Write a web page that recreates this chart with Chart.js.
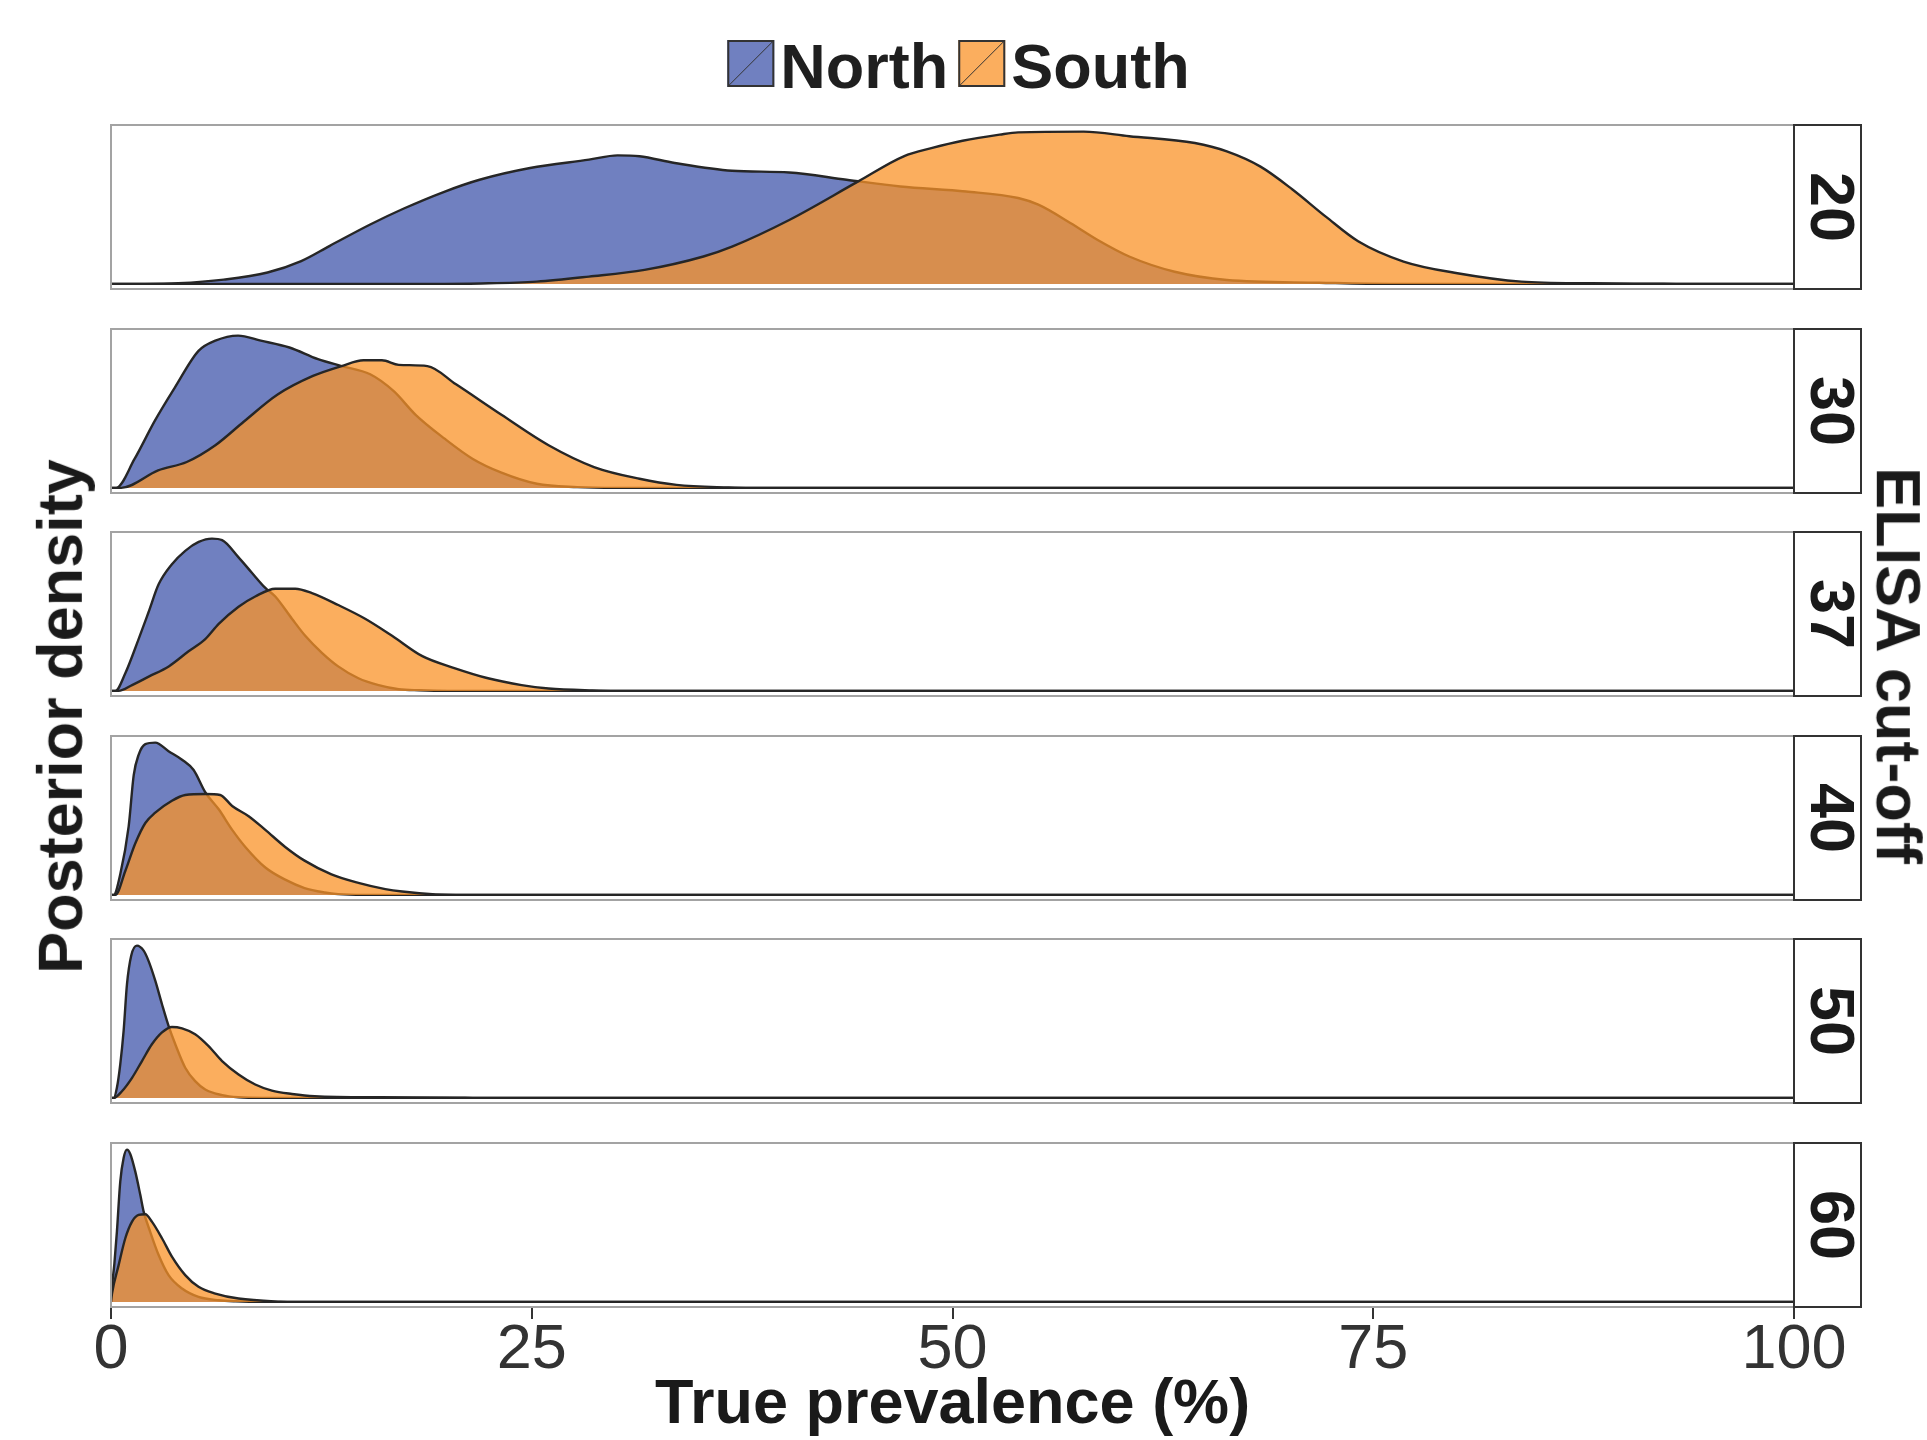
<!DOCTYPE html>
<html>
<head>
<meta charset="utf-8">
<title>Posterior density of true prevalence by ELISA cut-off</title>
<script src="https://cdn.jsdelivr.net/npm/chart.js@4.4.1/dist/chart.umd.min.js"></script>
<style>
  html, body { margin: 0; padding: 0; background: #fff; }
  #page { position: relative; width: 1927px; height: 1440px; overflow: hidden; font-family: "Liberation Sans", Arial, sans-serif; }
  #page canvas { position: absolute; left: 0; }
  .axis-title { position: absolute; font-weight: bold; font-size: 63px; line-height: 63px; color: #1a1a1a; white-space: nowrap; }
</style>
</head>
<body>
<div id="page"></div>
<script>
// ELISA cut-off of each panel, top to bottom
const cutoffs = ["20", "30", "37", "40", "50", "60"];
const seriesNames = ["North", "South"];
const tickValues = [0, 25, 50, 75, 100];

// posterior density curves: [true prevalence (%), density scaled to the panel maximum]
const north20 = [[0, 0], [2, 0], [4, 0.004], [6.7, 0.028], [9.3, 0.075], [11.3, 0.15], [13.0, 0.25], [15.4, 0.39], [17.4, 0.495], [19.8, 0.605], [21.9, 0.684], [24.9, 0.761], [28.4, 0.816], [30.1, 0.844], [31.4, 0.838], [33.5, 0.794], [36.9, 0.743], [40.3, 0.732], [43.7, 0.684], [46.9, 0.64], [50.8, 0.607], [53.9, 0.564], [55.1, 0.52], [57.0, 0.4], [58.6, 0.29], [60.5, 0.18], [63.2, 0.08], [66.3, 0.026], [71.8, 0.008], [76, 0], [100, 0]];
const south20 = [[0, 0], [19, 0], [22, 0.003], [25.3, 0.015], [28.4, 0.048], [31.7, 0.092], [35.2, 0.18], [36.9, 0.245], [40.3, 0.42], [44.4, 0.673], [47.1, 0.838], [48.8, 0.893], [50.6, 0.94], [52.8, 0.98], [53.9, 0.995], [57.8, 1.0], [60.5, 0.97], [64.4, 0.925], [66.3, 0.87], [68.3, 0.77], [70.2, 0.62], [72.2, 0.44], [74.1, 0.28], [76.8, 0.147], [80.0, 0.07], [83.8, 0.015], [88, 0.004], [91.8, 0.001], [93, 0], [100, 0]];
const north30 = [[0, 0], [0.3, 0], [1.4, 0.19], [2.6, 0.44], [3.8, 0.66], [5.2, 0.9], [6.2, 0.967], [7.55, 1.0], [8.9, 0.967], [10.6, 0.922], [12.3, 0.845], [13.7, 0.8], [15.4, 0.746], [16.8, 0.635], [18.1, 0.48], [19.8, 0.325], [21.5, 0.19], [23.2, 0.1], [25.3, 0.027], [27.7, 0.005], [30, 0], [100, 0]];
const south30 = [[0, 0], [0.6, 0], [2.8, 0.115], [4.5, 0.17], [6.2, 0.28], [7.9, 0.436], [9.9, 0.613], [12.0, 0.735], [13.7, 0.8], [15.0, 0.838], [16.1, 0.838], [17.1, 0.808], [18.8, 0.8], [20.5, 0.68], [23.2, 0.48], [26.0, 0.28], [28.7, 0.137], [31.4, 0.06], [33.6, 0.02], [36.7, 0.003], [38, 0], [100, 0]];
const north37 = [[0, 0], [0.26, 0], [0.85, 0.116], [1.64, 0.34], [2.24, 0.52], [2.83, 0.7], [3.62, 0.832], [4.41, 0.92], [5.21, 0.978], [6.0, 1.0], [6.6, 0.99], [7.58, 0.877], [8.37, 0.776], [9.17, 0.676], [9.76, 0.62], [10.75, 0.474], [11.54, 0.362], [12.53, 0.25], [13.5, 0.161], [14.7, 0.083], [15.9, 0.038], [17.1, 0.011], [18.3, 0.004], [20, 0], [100, 0]];
const south37 = [[0, 0], [0.45, 0], [1.25, 0.038], [2.24, 0.094], [3.43, 0.161], [4.61, 0.26], [5.6, 0.34], [6.4, 0.44], [7.58, 0.553], [8.57, 0.62], [9.76, 0.671], [10.95, 0.671], [11.94, 0.642], [13.5, 0.564], [15.1, 0.474], [16.7, 0.362], [18.5, 0.228], [20.4, 0.15], [22.4, 0.083], [24.4, 0.038], [26.0, 0.016], [28.6, 0.003], [30, 0], [100, 0]];
const north40 = [[0, 0], [0.16, 0], [0.55, 0.135], [1.05, 0.45], [1.35, 0.787], [1.64, 0.92], [2.04, 0.99], [2.63, 1.0], [3.42, 0.944], [4.22, 0.888], [4.91, 0.82], [5.6, 0.674], [6.4, 0.562], [7.2, 0.427], [7.98, 0.315], [9.17, 0.18], [10.35, 0.1], [11.5, 0.045], [12.7, 0.016], [13.5, 0.005], [15, 0], [100, 0]];
const south40 = [[0, 0], [0.26, 0], [0.85, 0.157], [1.44, 0.337], [2.04, 0.472], [2.63, 0.54], [3.62, 0.618], [4.41, 0.656], [5.6, 0.663], [6.49, 0.656], [7.2, 0.584], [8.18, 0.517], [9.17, 0.427], [10.35, 0.315], [11.5, 0.225], [13.1, 0.135], [14.7, 0.079], [16.3, 0.038], [17.3, 0.022], [19.3, 0.003], [20.5, 0], [100, 0]];
const north50 = [[0, 0], [0.16, 0], [0.35, 0.066], [0.55, 0.22], [0.75, 0.44], [0.95, 0.747], [1.2, 0.934], [1.54, 1.0], [1.94, 0.967], [2.23, 0.9], [2.63, 0.77], [3.03, 0.615], [3.42, 0.473], [3.82, 0.352], [4.41, 0.198], [5.0, 0.11], [5.6, 0.055], [6.6, 0.018], [7.58, 0.004], [9, 0], [100, 0]];
const south50 = [[0, 0], [0.16, 0], [0.65, 0.044], [1.25, 0.132], [1.84, 0.242], [2.43, 0.352], [3.03, 0.43], [3.62, 0.466], [4.22, 0.457], [5.0, 0.418], [5.8, 0.34], [6.6, 0.242], [7.58, 0.154], [8.57, 0.088], [9.56, 0.048], [10.75, 0.026], [12.1, 0.011], [16, 0.004], [20.65, 0.002], [21.5, 0], [100, 0]];
const north60 = [[0, 0], [0.06, 0.1], [0.2, 0.25], [0.35, 0.46], [0.55, 0.79], [0.75, 0.945], [0.95, 1.0], [1.15, 0.97], [1.44, 0.857], [1.74, 0.703], [1.94, 0.593], [2.33, 0.46], [2.83, 0.308], [3.42, 0.176], [4.22, 0.088], [5.2, 0.033], [6.4, 0.011], [7.4, 0.004], [9, 0], [100, 0]];
const south60 = [[0, 0], [0.06, 0.055], [0.45, 0.24], [0.85, 0.418], [1.25, 0.527], [1.64, 0.571], [2.04, 0.576], [2.43, 0.527], [3.03, 0.418], [3.62, 0.297], [4.41, 0.176], [5.2, 0.099], [6.2, 0.055], [7.58, 0.022], [10.06, 0.002], [11, 0], [100, 0]];

const northCurves = [north20, north30, north37, north40, north50, north60];
const southCurves = [south20, south30, south37, south40, south50, south60];

const northFill = "rgb(112, 128, 192)";
const southFill = "rgba(250, 147, 40, 0.75)";
const outline = "#262626";
const fontFamily = '"Liberation Sans", Arial, sans-serif';

// page layout (px)
const plotLeft = 111, plotRight = 1794, stripRight = 1862;
const panelTops = [124, 328, 531, 735, 938, 1142];
const panelHeight = 166;

Chart.defaults.font.family = fontFamily;

// grey panel border + facet strip with the cut-off on the right
const panelFrame = {
  id: "panelFrame",
  afterDatasetsDraw(chart, args, opts) {
    const { ctx, chartArea: a } = chart;
    const stripW = stripRight - plotRight;
    ctx.save();
    ctx.strokeStyle = "#a3a3a3";
    ctx.lineWidth = 2;
    ctx.strokeRect(a.left, a.top + 1, a.right - a.left, a.bottom - a.top - 2);
    ctx.fillStyle = "#fff";
    ctx.fillRect(a.right, a.top, stripW, a.bottom - a.top);
    ctx.strokeStyle = "#333";
    ctx.strokeRect(a.right, a.top + 1, stripW - 1, a.bottom - a.top - 2);
    ctx.translate(a.right + stripW / 2, (a.top + a.bottom) / 2);
    ctx.rotate(Math.PI / 2);
    ctx.font = "bold 63px " + fontFamily;
    ctx.fillStyle = "#1a1a1a";
    ctx.textAlign = "center";
    ctx.textBaseline = "middle";
    ctx.fillText(opts.label, 0, 0);
    ctx.restore();
  }
};

// ggplot style legend: filled key with a diagonal stroke, tight spacing
const keyLegend = {
  id: "keyLegend",
  afterDraw(chart) {
    const { ctx, chartArea: a } = chart;
    const key = 47, gap = 6, itemGap = 10, keyTop = 40, baseline = 88;
    ctx.save();
    ctx.font = "bold 63px " + fontFamily;
    const items = chart.data.datasets.map(ds => ({ text: ds.label, fill: ds.backgroundColor, w: ctx.measureText(ds.label).width }));
    const total = items.reduce((s, it) => s + key + gap + it.w, 0) + itemGap * (items.length - 1);
    let x = (a.left + a.right) / 2 + 6 - total / 2;
    items.forEach(it => {
      ctx.fillStyle = "#fff";
      ctx.fillRect(x, keyTop, key, key);
      ctx.fillStyle = it.fill;
      ctx.fillRect(x, keyTop, key, key);
      ctx.strokeStyle = "#333";
      ctx.lineWidth = 2;
      ctx.strokeRect(x + 1, keyTop + 1, key - 2, key - 2);
      ctx.lineWidth = 1;
      ctx.beginPath();
      ctx.moveTo(x + 2, keyTop + key - 2);
      ctx.lineTo(x + key - 2, keyTop + 2);
      ctx.stroke();
      ctx.fillStyle = "#1f1f1f";
      ctx.textBaseline = "alphabetic";
      ctx.fillText(it.text, x + key + gap, baseline);
      x += key + gap + it.w + itemGap;
    });
    ctx.restore();
  }
};

const page = document.getElementById("page");

cutoffs.forEach((cut, i) => {
  const first = i === 0;
  const last = i === cutoffs.length - 1;
  const canvasTop = first ? 0 : panelTops[i];
  const canvasHeight = last ? 1440 - panelTops[i] : panelTops[i] + panelHeight - canvasTop;

  const canvas = document.createElement("canvas");
  canvas.width = 1927;
  canvas.height = canvasHeight;
  canvas.style.top = canvasTop + "px";
  canvas.style.width = "1927px";
  canvas.style.height = canvasHeight + "px";
  page.appendChild(canvas);

  const toPoints = curve => curve.map(([x, y]) => ({ x, y }));

  const xScale = {
    type: "linear",
    min: 0,
    max: 100,
    display: last,
    position: "bottom",
    afterBuildTicks: scale => { scale.ticks = tickValues.map(v => ({ value: v })); },
    grid: { drawOnChartArea: false, drawTicks: true, tickLength: 11, color: "#333", lineWidth: 2 },
    border: { display: false },
    ticks: { color: "#333", font: { size: 63, lineHeight: 1 }, padding: 0, maxRotation: 0, autoSkip: false },
    title: { display: true, text: "True prevalence (%)", color: "#1a1a1a", font: { size: 63, weight: "bold", lineHeight: 1.08 }, padding: 0 },
  };
  if (last) {
    xScale.afterFit = scale => { scale.height = 1440 - panelTops[i] - panelHeight; };
  }

  new Chart(canvas, {
    type: "line",
    data: {
      datasets: [
        {
          label: seriesNames[0],
          data: toPoints(northCurves[i]),
          backgroundColor: northFill,
          borderColor: outline,
          borderWidth: 2.4,
          fill: "origin",
          pointRadius: 0,
          cubicInterpolationMode: "monotone",
          order: 2,
        },
        {
          label: seriesNames[1],
          data: toPoints(southCurves[i]),
          backgroundColor: southFill,
          borderColor: outline,
          borderWidth: 2.4,
          fill: "origin",
          pointRadius: 0,
          cubicInterpolationMode: "monotone",
          order: 1,
        },
      ],
    },
    options: {
      responsive: false,
      animation: false,
      events: [],
      layout: {
        padding: { left: plotLeft, right: 1927 - plotRight, top: first ? panelTops[0] : 0, bottom: 0 },
      },
      scales: {
        x: xScale,
        y: { min: -0.04, max: 1.05, display: false },
      },
      plugins: {
        legend: { display: false },
        tooltip: { enabled: false },
        panelFrame: { label: cut },
      },
    },
    plugins: first ? [panelFrame, keyLegend] : [panelFrame],
  });
});

// shared axis titles
function addTitle(text, cx, cy, angle) {
  const el = document.createElement("div");
  el.className = "axis-title";
  el.textContent = text;
  page.appendChild(el);
  el.style.left = (cx - el.offsetWidth / 2) + "px";
  el.style.top = (cy - el.offsetHeight / 2) + "px";
  el.style.transform = "rotate(" + angle + "deg)";
}
addTitle("Posterior density", 60, 716, -90);
addTitle("ELISA cut-off", 1898, 665, 90);
</script>
</body>
</html>
